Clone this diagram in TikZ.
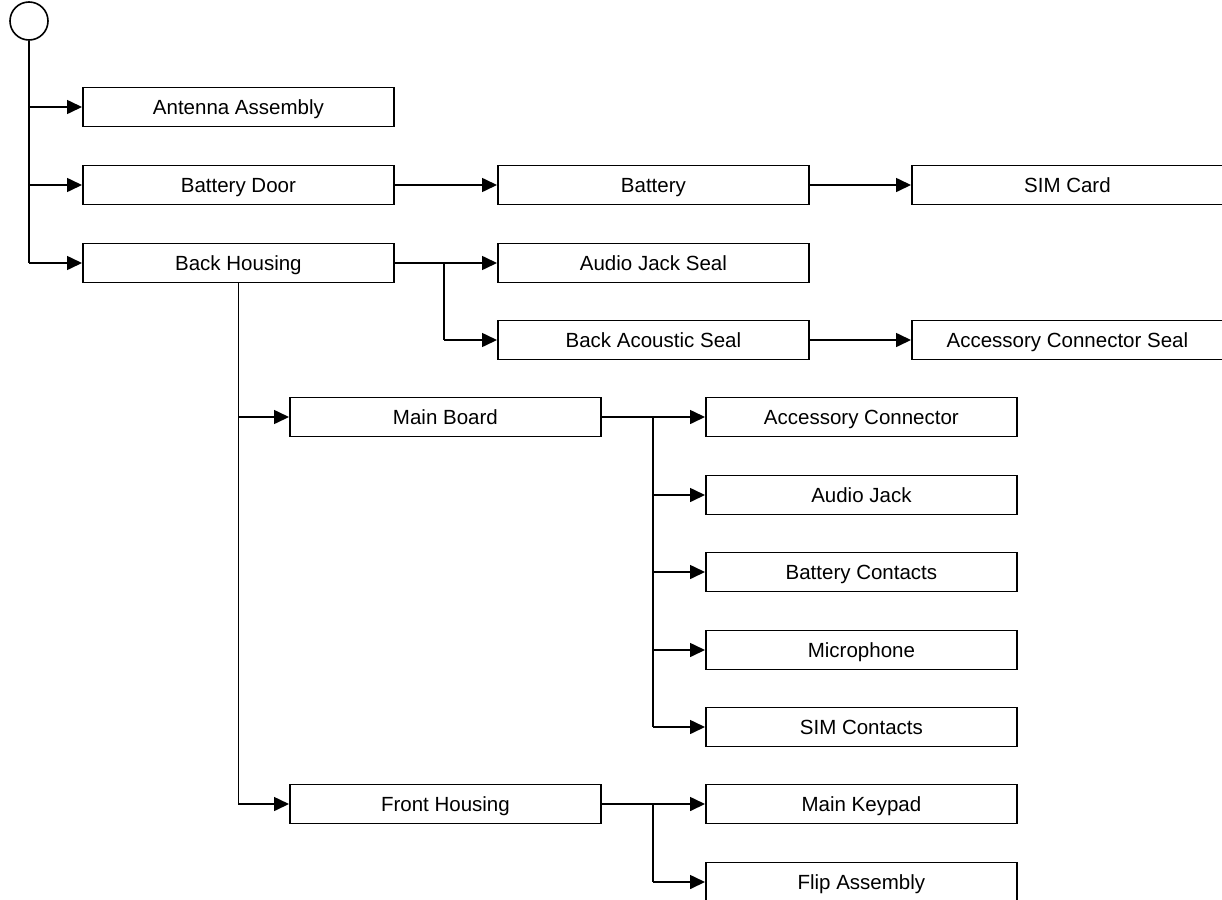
\documentclass[tikz,border=0pt]{standalone}
\usepackage{fontspec}
\setmainfont{Liberation Sans}
\usetikzlibrary{arrows.meta, positioning}
\tikzset{
  part/.style={rectangle, draw=black, line width=1.8pt, fill=white,
               minimum width=311pt, minimum height=39pt, inner sep=0pt,
               text height=17pt, text depth=3pt,
               font=\fontsize{20.5}{24}\selectfont, anchor=west},
  arr/.style={-{Triangle[length=15pt, width=14pt]}, line width=1.6pt},
  trunk/.style={line width=1.6pt},
}
\begin{document}
\begin{tikzpicture}[x=1pt, y=-1pt]
\useasboundingbox (0,0) rectangle (1222,899);
% Wurzel
\node[circle, draw, line width=1.6pt, minimum size=38pt, inner sep=0pt] (root) at (29,21) {};

% Erste Ebene
\node[part] (antenna) at (82,107) {Antenna Assembly};
\node[part] (door) at (82,185) {Battery Door};
\node[part] (back) at (82,263) {Back Housing};

\node[part] (battery) at (497,185) {Battery};
\node[part] (sim) at (911,185) {SIM Card};
\node[part] (jackseal) at (497,263) {Audio Jack Seal};
\node[part] (acoustic) at (497,340) {Back Acoustic Seal};
\node[part] (accseal) at (911,340) {Accessory Connector Seal};

\node[part] (board) at (289,417) {Main Board};
\node[part] (accconn) at (705,417) {Accessory Connector};
\node[part] (jack) at (705,495) {Audio Jack};
\node[part] (contacts) at (705,572) {Battery Contacts};
\node[part] (mic) at (705,650) {Microphone};
\node[part] (simcont) at (705,727) {SIM Contacts};

\node[part] (front) at (289,804) {Front Housing};
\node[part] (keypad) at (705,804) {Main Keypad};
\node[part] (flip) at (705,882) {Flip Assembly};

% Verbindungen
\coordinate (t0) at (root.south |- back.west);
\draw[trunk] (root.south) -- (t0);
\foreach \n in {antenna, door, back}
  \draw[arr] (root.south |- \n.west) -- (\n.west);

\draw[arr] (door.east) -- (battery.west);
\draw[arr] (battery.east) -- (sim.west);

\coordinate (t1) at (444,263);
\draw[arr] (back.east) -- (jackseal.west);
\draw[trunk] (t1) -- (t1 |- acoustic.west);
\draw[arr] (t1 |- acoustic.west) -- (acoustic.west);
\draw[arr] (acoustic.east) -- (accseal.west);

\coordinate (t2) at (back.south |- front.west);
\draw[trunk] (back.south) -- (t2);
\draw[arr] (back.south |- board.west) -- (board.west);
\draw[arr] (t2) -- (front.west);

\coordinate (t3) at (653,417);
\draw[arr] (board.east) -- (accconn.west);
\draw[trunk] (t3) -- (t3 |- simcont.west);
\foreach \n in {jack, contacts, mic, simcont}
  \draw[arr] (t3 |- \n.west) -- (\n.west);

\coordinate (t4) at (653,804);
\draw[arr] (front.east) -- (keypad.west);
\draw[trunk] (t4) -- (t4 |- flip.west);
\draw[arr] (t4 |- flip.west) -- (flip.west);
\end{tikzpicture}
\end{document}
